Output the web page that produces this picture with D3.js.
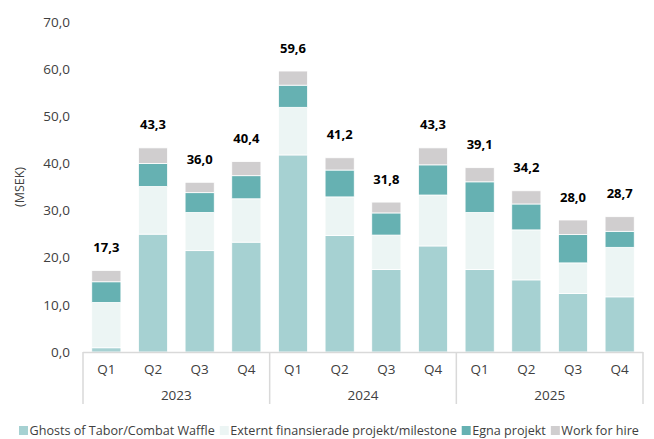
<!DOCTYPE html>
<html><head><meta charset="utf-8">
<script src="https://cdn.jsdelivr.net/npm/d3@7"></script>
<style>body{margin:0;background:#fff}svg{display:block}text{font-family:"Open Sans",sans-serif}</style>
</head><body><svg id="c" width="654" height="439"></svg>
<script>
const years = ["2023","2024","2025"];
const quarters = ["Q1","Q2","Q3","Q4"];
const categories = ["2023-Q1","2023-Q2","2023-Q3","2023-Q4","2024-Q1","2024-Q2","2024-Q3","2024-Q4","2025-Q1","2025-Q2","2025-Q3","2025-Q4"];
const seriesNames = ["Ghosts of Tabor/Combat Waffle","Externt finansierade projekt/milestone","Egna projekt","Work for hire"];
const ghosts   = [0.9,25.0,21.5,23.3,41.8,24.7,17.5,22.5,17.5,15.3,12.4,11.7];
const externt  = [9.6,10.1,8.1,9.2,10.1,8.2,7.3,10.8,12.1,10.6,6.5,10.5];
const egna     = [4.4,4.9,4.2,4.9,4.7,5.7,4.7,6.4,6.5,5.5,6.0,3.4];
const work     = [2.4,3.3,2.2,3.0,3.0,2.6,2.3,3.6,3.0,2.8,3.1,3.1];
const totals   = [17.3,43.3,36.0,40.4,59.6,41.2,31.8,43.3,39.1,34.2,28.0,28.7];
const yTicks   = [0,10,20,30,40,50,60,70];
const colors   = ["#a6d1d2","#ecf5f4","#66b1b2","#d0cecf"];

const svg = d3.select("#c");
const x = d3.scaleBand().domain(categories).range([83,643]).paddingInner(0.375).paddingOuter(0.1875);
const y = d3.scaleLinear().domain([0,70]).range([352,22]);
const fmt = v => d3.format(".1f")(v).replace(".", ",");

svg.append("g").selectAll("text").data(yTicks).join("text")
  .attr("x",70).attr("y",d=>y(d)).attr("dy","0.35em").attr("text-anchor","end")
  .attr("font-size",13.5).attr("fill","#404040").text(fmt);

svg.append("text").attr("transform","translate(24,187) rotate(-90)")
  .attr("text-anchor","middle").attr("font-size",12.5).attr("fill","#404040").text("(MSEK)");

const rows = categories.map((c,i)=>({cat:c,s0:ghosts[i],s1:externt[i],s2:egna[i],s3:work[i]}));
const stack = d3.stack().keys(["s0","s1","s2","s3"])(rows);
svg.append("g").selectAll("g").data(stack).join("g").attr("fill",(d,i)=>colors[i])
  .selectAll("rect").data(d=>d).join("rect")
  .attr("x",d=>x(d.data.cat)).attr("width",x.bandwidth())
  .attr("y",d=>y(d[1])).attr("height",d=>y(d[0])-y(d[1]))
  .attr("stroke","#ffffff").attr("stroke-width",0.8);

svg.append("g").selectAll("text").data(categories).join("text")
  .attr("x",d=>x(d)+x.bandwidth()/2).attr("y",(d,i)=>y(totals[i])-23).attr("dy","0.35em")
  .attr("text-anchor","middle").attr("font-size",13).attr("font-weight","bold").attr("fill","#000")
  .text((d,i)=>fmt(totals[i]));

const ax = svg.append("g");
ax.append("line").attr("x1",83).attr("x2",643).attr("y1",352.5).attr("y2",352.5).attr("stroke","#d9d9d9").attr("stroke-width",1.5);
const bounds = [83].concat(years.map((yr,i)=>x(yr+"-Q4")+x.bandwidth()+x.step()*x.paddingInner()/2));
bounds[bounds.length-1]=643;
ax.selectAll("line.div").data(bounds).join("line").attr("class","div")
  .attr("x1",d=>d).attr("x2",d=>d).attr("y1",352).attr("y2",404).attr("stroke","#d9d9d9").attr("stroke-width",1.5);
ax.selectAll("text.q").data(categories).join("text").attr("class","q")
  .attr("x",d=>x(d)+x.bandwidth()/2).attr("y",369).attr("dy","0.35em").attr("text-anchor","middle")
  .attr("font-size",13.5).attr("fill","#404040").text((d,i)=>quarters[i%4]);
ax.selectAll("text.yr").data(years).join("text").attr("class","yr")
  .attr("x",(d,i)=>(bounds[i]+bounds[i+1])/2).attr("y",395).attr("dy","0.35em").attr("text-anchor","middle")
  .attr("font-size",13.5).attr("fill","#404040").text(d=>d);

const lg = svg.append("g").attr("transform","translate(19,431)");
let lx = 0;
seriesNames.forEach((n,i)=>{
  const g = lg.append("g").attr("transform",`translate(${lx},0)`);
  g.append("rect").attr("x",0).attr("y",-5).attr("width",9).attr("height",9).attr("fill",colors[i]);
  const t = g.append("text").attr("x",10.5).attr("y",0).attr("dy","0.35em").attr("font-size",12.6).attr("fill","#404040").text(n);
  lx += 10.5 + t.node().getComputedTextLength() + 5;
});
</script></body></html>
